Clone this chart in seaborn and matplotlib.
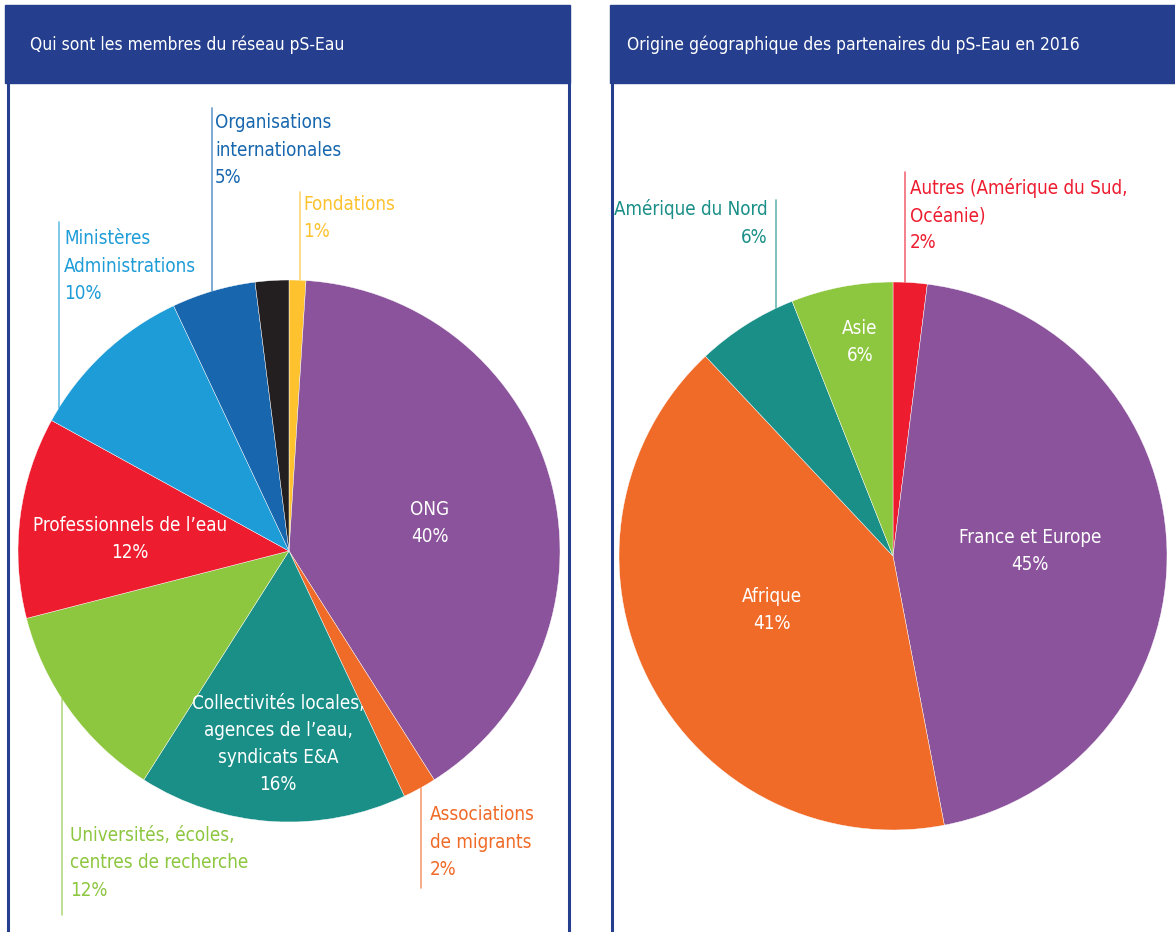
import matplotlib
matplotlib.use("Agg")
import matplotlib.pyplot as plt
from matplotlib.patches import Rectangle
import seaborn as sns
import numpy as np

# Données
membres_labels = ["Fondations", "ONG", "Associations\nde migrants",
                  "Collectivités locales,\nagences de l’eau,\nsyndicats E&A",
                  "Universités, écoles,\ncentres de recherche",
                  "Professionnels de l’eau", "Ministères\nAdministrations",
                  "Organisations\ninternationales", ""]
membres_valeurs = [1, 40, 2, 16, 12, 12, 10, 5, 2]
membres_couleurs = ["#FDC22E", "#8B539B", "#F06A28", "#1A8F88", "#8DC63F",
                    "#ED1C2E", "#1E9CD7", "#1766AE", "#231F20"]

origine_labels = ["Autres (Amérique du Sud,\nOcéanie)", "France et Europe",
                  "Afrique", "Amérique du Nord", "Asie"]
origine_valeurs = [2, 45, 41, 6, 6]
origine_couleurs = ["#ED1C2E", "#8B539B", "#F06A28", "#1A8F88", "#8DC63F"]

sns.set_theme(style="white")
plt.rcParams['font.family'] = ['DejaVu Sans']
plt.rcParams['font.stretch'] = 'condensed'

W, H = 1175, 932
BLEU = "#253F8E"
fig = plt.figure(figsize=(W / 100, H / 100), dpi=100)


def axes_px(x0, y0, x1, y1):
    return fig.add_axes([x0 / W, 1 - y1 / H, (x1 - x0) / W, (y1 - y0) / H])


# camemberts (centre, rayon en pixels)
pies = [
    (membres_valeurs, membres_couleurs, (289, 551), 271),
    (origine_valeurs, origine_couleurs, (893, 556), 274),
]
for vals, cols, (cx, cy), r in pies:
    ax = axes_px(cx - r, cy - r, cx + r, cy + r)
    ax.pie(vals, colors=cols, startangle=90, counterclock=False,
           wedgeprops=dict(linewidth=0.3, edgecolor="white"))
    ax.set_xlim(-1, 1)
    ax.set_ylim(-1, 1)
    ax.set_aspect("equal")
    ax.axis("off")

# calque pour cadres et textes
ov = fig.add_axes([0, 0, 1, 1], zorder=5)
ov.set_xlim(0, W)
ov.set_ylim(H, 0)
ov.axis("off")
ov.patch.set_alpha(0)

for x0, bx in [(5, (7.5, 568.5)), (610, (611.5, 1180))]:
    ov.add_patch(Rectangle((x0, 5), 565, 78, color=BLEU))
    for x in bx:
        ov.plot([x, x], [83, H], color=BLEU, lw=2.2, solid_capstyle="butt")

ov.text(30, 45, "Qui sont les membres du réseau pS-Eau", color="white",
        fontsize=12.5, va="center", ha="left")
ov.text(627, 45, "Origine géographique des partenaires du pS-Eau en 2016",
        color="white", fontsize=12.5, va="center", ha="left")


def edge_y(x, centre, r, top=True):
    cx, cy = centre
    d = np.sqrt(r ** 2 - (x - cx) ** 2)
    return cy - d if top else cy + d


FS = 13.5
LS = 1.55

# étiquettes extérieures : (serie, index, x ligne, y extrémité, x texte, y centre texte, ha, haut?)
ext = [
    (0, 7, 212, 108, 215, 150, "left", True),
    (0, 0, 300, 192, 303, 218, "left", True),
    (0, 6, 59, 222, 64, 266, "left", True),
    (0, 4, 62, 915, 70, 863, "left", False),
    (0, 2, 421, 888, 430, 842, "left", False),
    (1, 3, 776, 200, 768, 223, "right", True),
    (1, 0, 905, 172, 910, 215, "left", True),
]
for s, i, lx, ly, tx, ty, ha, top in ext:
    vals, cols, centre, r = pies[s]
    labs = membres_labels if s == 0 else origine_labels
    y_e = edge_y(lx, centre, r, top)
    ov.plot([lx, lx], [y_e, ly], color=cols[i], lw=1.2, alpha=0.65)
    ov.text(tx, ty, f"{labs[i]}\n{vals[i]}%", color=cols[i], fontsize=FS,
            ha=ha, va="center", linespacing=LS, multialignment=ha)

# étiquettes intérieures
inner = [
    (0, 1, 430, 523), (0, 5, 130, 539), (0, 3, 278, 744),
    (1, 4, 860, 342), (1, 1, 1030, 551), (1, 2, 772, 610),
]
for s, i, tx, ty in inner:
    vals = pies[s][0]
    labs = membres_labels if s == 0 else origine_labels
    ov.text(tx, ty, f"{labs[i]}\n{vals[i]}%", color="white", fontsize=FS,
            ha="center", va="center", linespacing=LS)

fig.savefig("out.png", dpi=100, facecolor="white")
